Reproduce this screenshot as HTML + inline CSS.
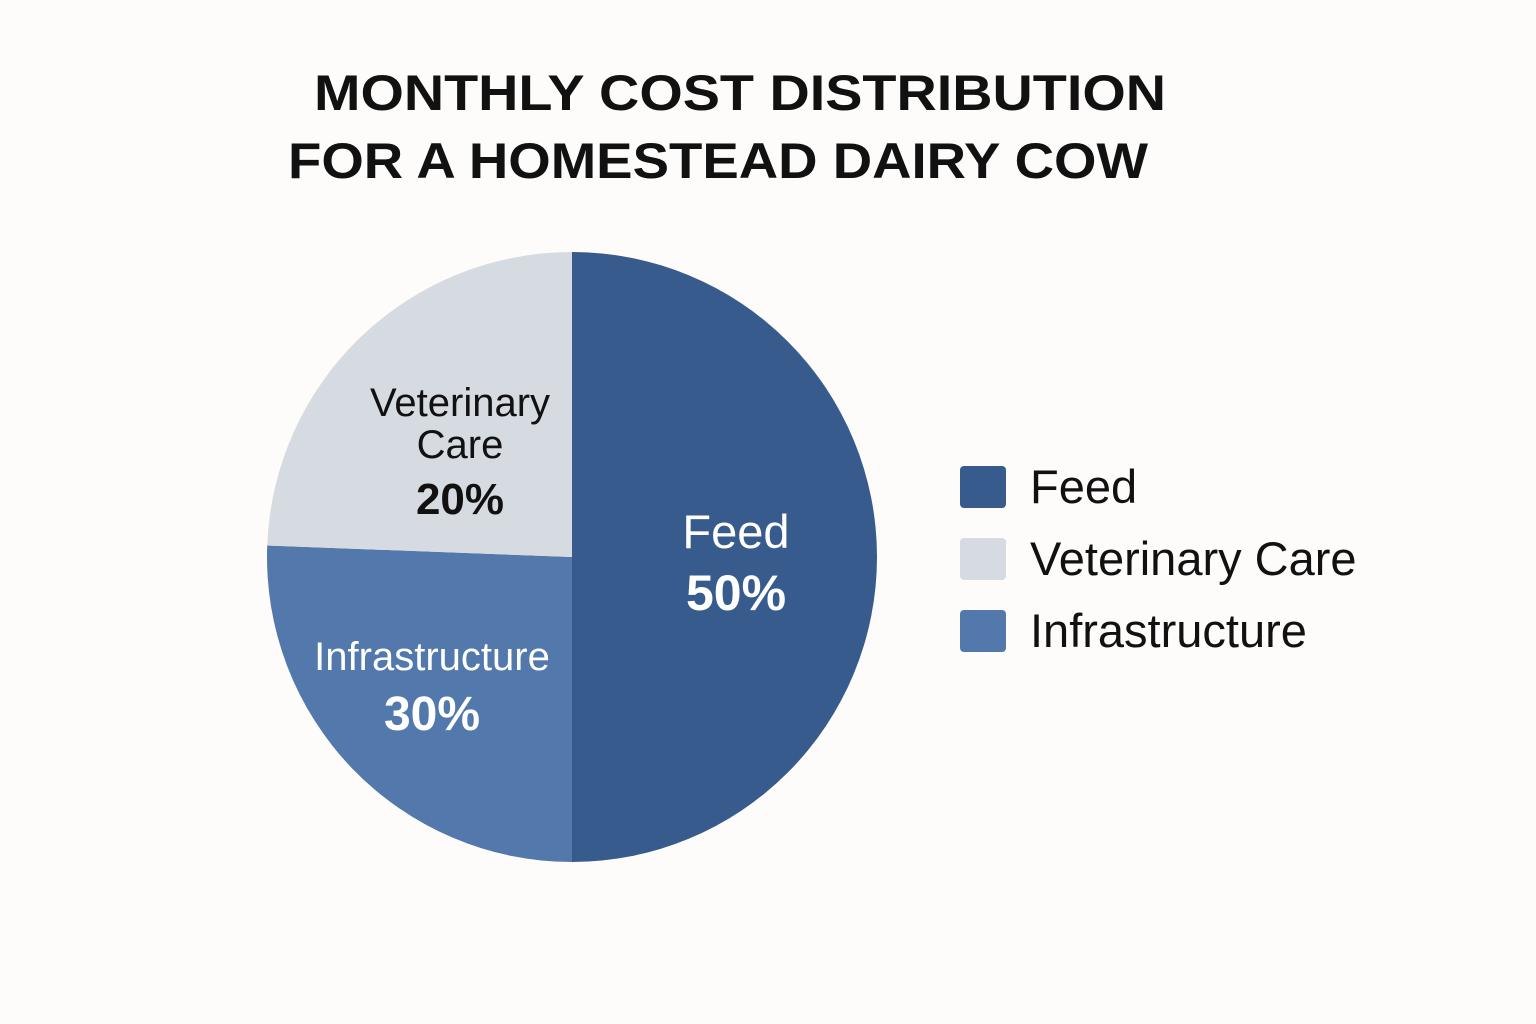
<!DOCTYPE html>
<html><head><meta charset="utf-8"><style>
html,body{margin:0;padding:0;background:#fdfcfa;}
svg{display:block;font-family:"Liberation Sans",sans-serif;}
</style></head><body>
<svg id="chart" width="1536" height="1024" viewBox="0 0 1536 1024">
<rect width="1536" height="1024" fill="#fdfcfa"/>
<text x="740" y="110" text-anchor="middle" font-size="50" font-weight="bold" fill="#111" textLength="852" lengthAdjust="spacingAndGlyphs">MONTHLY COST DISTRIBUTION</text>
<text x="718" y="178" text-anchor="middle" font-size="50" font-weight="bold" fill="#111" textLength="860" lengthAdjust="spacingAndGlyphs">FOR A HOMESTEAD DAIRY COW</text>
<g id="slices"></g>
<g id="labels"></g>
<g id="legend"></g>
</svg>
<script>
const categories = ["Feed", "Infrastructure", "Veterinary Care"];
const values = [50, 25.6, 24.4];
const printedValues = ["50%", "30%", "20%"];
const legendOrder = ["Feed", "Veterinary Care", "Infrastructure"];

const colors = {"Feed":"#365b8c","Infrastructure":"#5278ac","Veterinary Care":"#d6dae1"};
const cx = 572, cy = 557, r = 305;
const NS = "http://www.w3.org/2000/svg";
const total = values.reduce((a,b)=>a+b,0);
function angleOf(v){ return v/total*2*Math.PI; }
function pt(a, rad){ return [cx + rad*Math.sin(a), cy - rad*Math.cos(a)]; }

const slicesG = document.getElementById('slices');
const labelsG = document.getElementById('labels');
let start = 0;
categories.forEach((c,i)=>{
  const end = start + angleOf(values[i]);
  const [x1,y1] = pt(start,r), [x2,y2] = pt(end,r);
  const large = (end-start) > Math.PI ? 1 : 0;
  const p = document.createElementNS(NS,'path');
  p.setAttribute('d',`M${cx},${cy} L${x1},${y1} A${r},${r} 0 ${large} 1 ${x2},${y2} Z`);
  p.setAttribute('fill',colors[c]);
  
  
  slicesG.appendChild(p);

  const dark = c === "Veterinary Care";
  const fill = dark ? "#111" : "#fff";
  let lines;
  if (c === "Veterinary Care") lines = [["Veterinary",40,"normal",-90],["Care",40,"normal",-48],[printedValues[i],44,"bold",8]];
  else if (c === "Feed") lines = [["Feed",47,"normal",-38],[printedValues[i],50,"bold",24]];
  else lines = [["Infrastructure",40,"normal",-10],[printedValues[i],48,"bold",50]];
  const baseY = c === "Feed" ? 586 : (c === "Infrastructure" ? 680 : 506);
  const baseX = c === "Feed" ? 736 : (c === "Infrastructure" ? 432 : 460);
  lines.forEach(l=>{
    const t = document.createElementNS(NS,'text');
    t.setAttribute('x', baseX);
    t.setAttribute('y', baseY + l[3]);
    t.setAttribute('text-anchor','middle');
    t.setAttribute('font-size', l[1]);
    t.setAttribute('font-weight', l[2]);
    t.setAttribute('fill', fill);
    t.textContent = l[0];
    
    
    labelsG.appendChild(t);
  });
  start = end;
});

const legendG = document.getElementById('legend');
legendOrder.forEach((c,i)=>{
  const y = 466 + i*72;
  const rect = document.createElementNS(NS,'rect');
  rect.setAttribute('x',960); rect.setAttribute('y',y);
  rect.setAttribute('width',46); rect.setAttribute('height',42);
  rect.setAttribute('rx',4); rect.setAttribute('fill',colors[c]);
  
  
  legendG.appendChild(rect);
  const t = document.createElementNS(NS,'text');
  t.setAttribute('x',1030); t.setAttribute('y',y+37);
  t.setAttribute('font-size',47); t.setAttribute('fill','#111');
  t.textContent = c;
  
  
  legendG.appendChild(t);
});
</script>
</body></html>
